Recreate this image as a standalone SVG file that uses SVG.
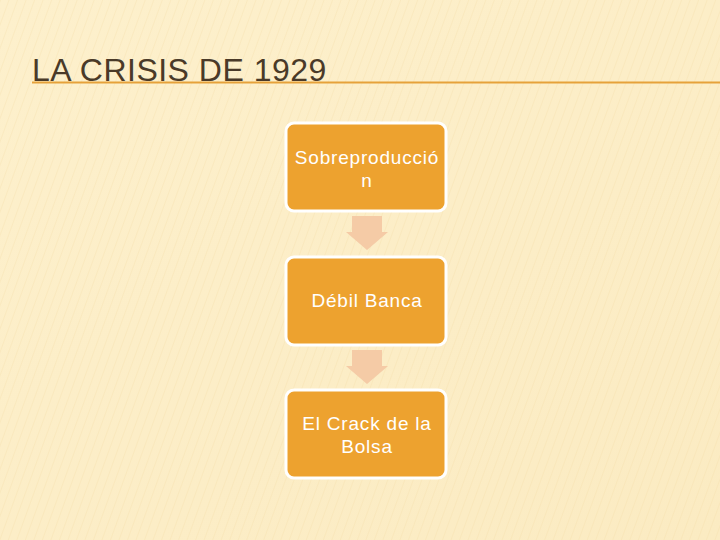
<svg xmlns="http://www.w3.org/2000/svg" width="720" height="540" viewBox="0 0 720 540">
<defs>
<linearGradient id="bg" x1="0" y1="0" x2="1" y2="1">
<stop offset="0" stop-color="#FDF0CC"/>
<stop offset="1" stop-color="#FBEBC2"/>
</linearGradient>
<pattern id="stripes" width="8" height="8" patternUnits="userSpaceOnUse" patternTransform="rotate(20)">
<rect width="8" height="8" fill="none"/>
<line x1="0" y1="0" x2="0" y2="8" stroke="#F3DCA6" stroke-width="2" opacity="0.5"/>
</pattern>
<style>
.box{fill:#EDA22F;stroke:#FFFFFF;stroke-width:3}
.lbl{font-family:"Liberation Sans",Arial,sans-serif;font-size:19px;letter-spacing:0.8px;fill:#FFFFFF;text-anchor:middle}
.arr{fill:#F5CBA6}
</style>
</defs>
<rect width="720" height="540" fill="url(#bg)"/>
<rect width="720" height="540" fill="url(#stripes)" opacity="0.6"/>
<g id="title">
<text x="32" y="81" font-family="Liberation Sans,Arial,sans-serif" font-size="32" letter-spacing="0.5" fill="#4A3A28">LA CRISIS DE 1929</text>
<line x1="32" y1="82.5" x2="720" y2="82.5" stroke="#E6A23A" stroke-width="2"/>
</g>
<g id="connectors">
<polygon class="arr" points="352,216 382,216 382,232 388,232 367,250 346,232 352,232"/>
<polygon class="arr" points="352,350 382,350 382,366 388,366 367,384 346,366 352,366"/>
</g>
<g id="node1">
<rect class="box" x="286" y="123" width="160" height="88" rx="8"/>
<text class="lbl" x="367" y="164">Sobreproducció</text>
<text class="lbl" x="367" y="187">n</text>
</g>
<g id="node2">
<rect class="box" x="286" y="257" width="160" height="88" rx="8"/>
<text class="lbl" x="367" y="307">Débil Banca</text>
</g>
<g id="node3">
<rect class="box" x="286" y="390" width="160" height="88" rx="8"/>
<text class="lbl" x="367" y="430">El Crack de la</text>
<text class="lbl" x="367" y="453">Bolsa</text>
</g>
</svg>
